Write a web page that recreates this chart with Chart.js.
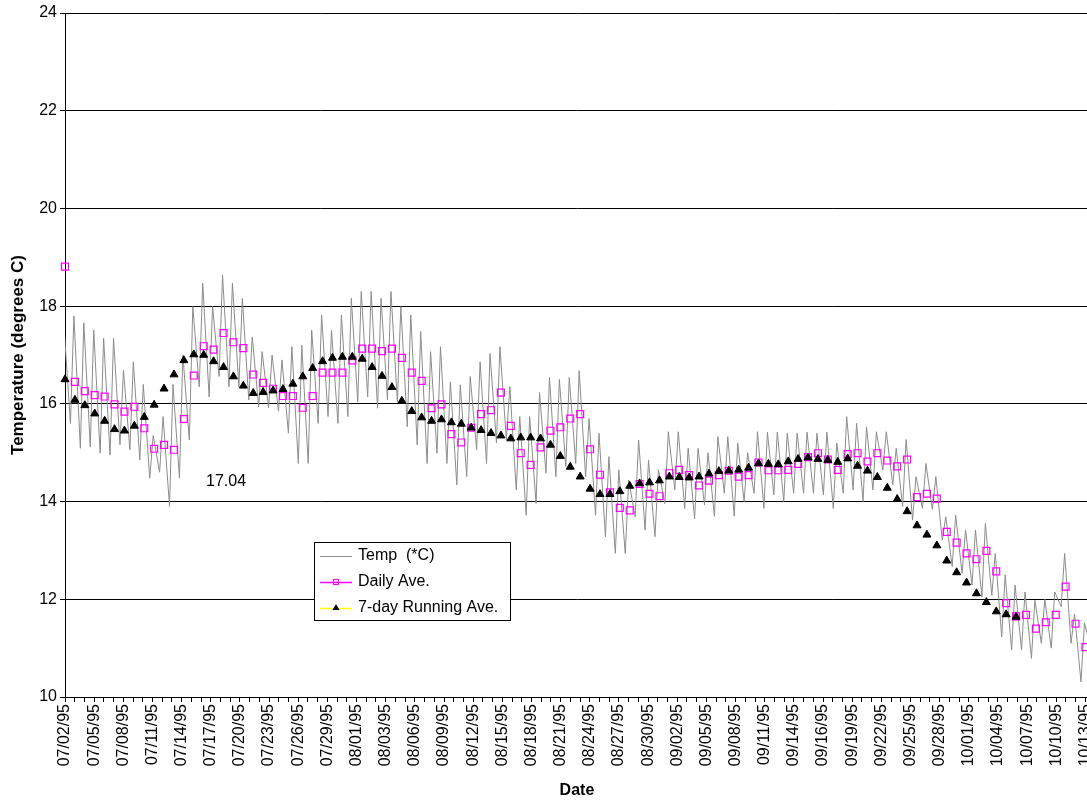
<!DOCTYPE html>
<html>
<head>
<meta charset="utf-8">
<script src="https://cdn.jsdelivr.net/npm/chart.js@4.4.1/dist/chart.umd.min.js"></script>
<style>
  html, body { margin: 0; padding: 0; background: #fff; overflow: hidden; }
  #wrap { width: 1095px; height: 801px; }
</style>
</head>
<body>
<div id="wrap"><canvas id="tempChart" width="1095" height="801"></canvas></div>
<script>
// Etiquetas del eje X (una cada 3 divisiones)
const tickLabels = [
  '07/02/95', '07/05/95', '07/08/95', '07/11/95', '07/14/95', '07/17/95', '07/20/95', '07/23/95',
  '07/26/95', '07/29/95', '08/01/95', '08/03/95', '08/06/95', '08/09/95', '08/12/95', '08/15/95',
  '08/18/95', '08/21/95', '08/24/95', '08/27/95', '08/30/95', '09/02/95', '09/05/95', '09/08/95',
  '09/11/95', '09/14/95', '09/16/95', '09/19/95', '09/22/95', '09/25/95', '09/28/95', '10/01/95',
  '10/04/95', '10/07/95', '10/10/95', '10/13/95'
];

// Media diaria (un valor por dia, desde 07/02)
const dailyAve = [
  18.81, 16.45, 16.26, 16.18, 16.15, 15.99, 15.84, 15.94, 15.50, 15.08,
  15.16, 15.06, 15.69, 16.58, 17.18, 17.11, 17.45, 17.26, 17.14, 16.60,
  16.43, 16.31, 16.16, 16.16, 15.92, 16.16, 16.64, 16.64, 16.64, 16.89,
  17.13, 17.13, 17.08, 17.13, 16.94, 16.64, 16.47, 15.91, 15.99, 15.38,
  15.21, 15.51, 15.79, 15.87, 16.23, 15.55, 14.99, 14.75, 15.11, 15.45,
  15.52, 15.70, 15.79, 15.07, 14.55, 14.19, 13.87, 13.82, 14.36, 14.16,
  14.11, 14.58, 14.65, 14.54, 14.33, 14.43, 14.54, 14.63, 14.51, 14.54,
  14.80, 14.64, 14.64, 14.65, 14.77, 14.91, 14.99, 14.86, 14.65, 14.97,
  14.99, 14.82, 14.99, 14.84, 14.72, 14.86, 14.09, 14.16, 14.06, 13.38,
  13.16, 12.94, 12.82, 12.99, 12.57, 11.92, 11.65, 11.68, 11.40, 11.53,
  11.68, 12.26, 11.50, 11.02
];

// Media movil de 7 dias
const runningAve = [
  16.50, 16.08, 15.97, 15.80, 15.65, 15.48, 15.45, 15.55, 15.73, 15.98,
  16.31, 16.60, 16.89, 17.01, 17.00, 16.87, 16.75, 16.56, 16.37, 16.22,
  16.24, 16.27, 16.30, 16.41, 16.56, 16.73, 16.87, 16.94, 16.96, 16.96,
  16.92, 16.75, 16.57, 16.34, 16.06, 15.85, 15.72, 15.65, 15.68, 15.62,
  15.59, 15.51, 15.46, 15.40, 15.35, 15.29, 15.31, 15.31, 15.29, 15.16,
  14.93, 14.71, 14.51, 14.26, 14.15, 14.15, 14.21, 14.32, 14.37, 14.39,
  14.43, 14.51, 14.50, 14.49, 14.51, 14.57, 14.62, 14.63, 14.65, 14.69,
  14.78, 14.77, 14.76, 14.82, 14.87, 14.90, 14.87, 14.85, 14.81, 14.88,
  14.73, 14.63, 14.50, 14.28, 14.05, 13.80, 13.51, 13.32, 13.10, 12.79,
  12.55, 12.34, 12.12, 11.94, 11.75, 11.69, 11.64
];

// Temperatura: maximo y minimo de cada dia
const tempHigh = [
  17.58, 17.80, 17.66, 17.51, 17.34, 17.34, 16.69, 16.86, 16.40, 15.35,
  15.74, 16.40, 17.00, 17.99, 18.47, 17.99, 18.64, 18.47, 18.16, 17.37,
  17.07, 17.00, 16.90, 17.17, 17.20, 17.51, 17.82, 17.51, 17.82, 18.16,
  18.30, 18.30, 18.16, 18.30, 17.99, 17.82, 17.48, 17.07, 17.17, 16.45,
  16.39, 16.56, 16.86, 17.03, 17.17, 16.35, 15.74, 15.74, 16.23, 16.54,
  16.50, 16.54, 16.68, 15.70, 15.40, 14.92, 14.65, 14.44, 15.26, 14.85,
  14.65, 15.43, 15.43, 15.09, 15.09, 15.00, 15.33, 15.33, 15.20, 15.00,
  15.43, 15.42, 15.42, 15.40, 15.40, 15.42, 15.40, 15.42, 15.20, 15.74,
  15.60, 15.53, 15.43, 15.43, 15.09, 15.27, 14.51, 14.78, 14.51, 13.69,
  13.72, 13.42, 13.42, 13.55, 12.94, 12.50, 12.29, 12.15, 11.98, 12.00,
  12.15, 12.94, 11.70, 11.51
];
const tempLow = [
  15.60, 15.09, 15.12, 14.99, 14.95, 15.16, 15.06, 14.85, 14.48, 14.60,
  13.90, 14.48, 15.26, 16.35, 16.14, 16.56, 16.35, 16.35, 16.08, 15.94,
  15.92, 15.85, 15.40, 14.78, 14.78, 15.60, 15.74, 15.60, 15.74, 16.04,
  16.14, 15.91, 16.08, 16.04, 15.53, 15.16, 14.78, 14.99, 14.78, 14.34,
  14.51, 15.06, 14.78, 15.20, 15.26, 14.24, 13.72, 13.96, 14.58, 14.51,
  14.72, 14.78, 14.51, 13.72, 13.28, 12.94, 12.94, 13.69, 13.42, 13.28,
  13.96, 14.24, 13.86, 13.65, 13.93, 13.70, 14.17, 13.70, 14.00, 14.17,
  13.86, 14.14, 14.00, 14.17, 14.17, 14.17, 14.14, 13.86, 14.17, 14.24,
  14.00, 14.24, 14.65, 14.34, 13.90, 13.62, 13.86, 13.84, 13.21, 12.67,
  12.53, 12.29, 12.05, 12.08, 11.23, 10.96, 10.96, 10.79, 11.10, 11.00,
  11.85, 11.10, 10.31, 11.00
];

const FONT = "'Liberation Sans', Arial, sans-serif";
Chart.defaults.font.family = FONT;
Chart.defaults.font.size = 16;
Chart.defaults.color = '#000';

const lastDay = dailyAve.length - 1;
// tres marcas por cada etiqueta
const tickCount = (tickLabels.length - 1) * 3;
const tickValues = [];
for (let j = 0; j <= tickCount; j++) tickValues.push(j * lastDay / tickCount);

const tempPoints = [];
tempHigh.forEach((hi, d) => {
  tempPoints.push({ x: d - 0.1, y: hi });
  tempPoints.push({ x: d + 0.55, y: tempLow[d] });
});

// Leyenda dentro del area y la etiqueta suelta
const legendBox = {
  id: 'legendBox',
  afterDraw(chart) {
    const ctx = chart.ctx;
    const ds = chart.data.datasets;
    ctx.save();
    ctx.font = '16px ' + FONT;
    ctx.fillStyle = '#000';
    ctx.textBaseline = 'middle';
    ctx.fillText('17.04', 206, 482);

    const bx = 314.5, by = 542.5, bw = 196, bh = 78;
    ctx.fillStyle = '#fff';
    ctx.fillRect(bx, by, bw, bh);
    ctx.strokeStyle = '#000';
    ctx.lineWidth = 1;
    ctx.strokeRect(bx, by, bw, bh);

    const rows = [
      { label: ds[2].label, line: ds[2].borderColor, style: null },
      { label: ds[1].label, line: ds[1].borderColor, style: 'rect' },
      { label: ds[0].label, line: '#ffff00', style: 'triangle' }
    ];
    rows.forEach((r, i) => {
      const y = 556 + i * 26;
      ctx.strokeStyle = r.line;
      ctx.lineWidth = i === 0 ? 1 : 1.5;
      ctx.beginPath();
      ctx.moveTo(320, y + 0.5);
      ctx.lineTo(352, y + 0.5);
      ctx.stroke();
      if (r.style === 'rect') {
        ctx.strokeStyle = ds[1].borderColor;
        ctx.lineWidth = 1;
        ctx.strokeRect(333.5, y - 2.5, 5, 5);
      } else if (r.style === 'triangle') {
        ctx.fillStyle = '#000';
        ctx.beginPath();
        ctx.moveTo(336, y - 4);
        ctx.lineTo(339.5, y + 2);
        ctx.lineTo(332.5, y + 2);
        ctx.closePath();
        ctx.fill();
      }
      ctx.fillStyle = '#000';
      ctx.fillText(r.label, 358, y);
    });
    ctx.restore();
  }
};

const ctx = document.getElementById('tempChart').getContext('2d');
new Chart(ctx, {
  type: 'scatter',
  data: {
    datasets: [
      {
        label: '7-day Running Ave.',
        data: runningAve.map((v, d) => ({ x: d, y: v })),
        pointStyle: 'triangle',
        pointRadius: 4.6,
        pointBorderWidth: 1,
        backgroundColor: '#000',
        borderColor: '#000',
        showLine: false,
        clip: false,
        order: 0
      },
      {
        label: 'Daily Ave.',
        data: dailyAve.map((v, d) => ({ x: d, y: v })),
        pointStyle: 'rect',
        pointRadius: 4.9,
        pointBorderWidth: 1.2,
        backgroundColor: 'rgba(0,0,0,0)',
        borderColor: '#ff00ff',
        showLine: false,
        clip: false,
        order: 1
      },
      {
        label: 'Temp  (*C)',
        data: tempPoints,
        showLine: true,
        borderColor: '#8c8c8c',
        borderWidth: 1,
        pointRadius: 0,
        tension: 0,
        order: 2
      }
    ]
  },
  options: {
    responsive: false,
    animation: false,
    layout: { padding: { top: 13, right: 0, left: 0, bottom: 0 } },
    plugins: { legend: { display: false }, tooltip: { enabled: false } },
    scales: {
      x: {
        type: 'linear',
        min: 0,
        max: 103.35,
        afterBuildTicks: axis => { axis.ticks = tickValues.map(v => ({ value: v })); },
        afterFit: s => { s.height = 104; s.paddingLeft = 0; s.paddingRight = 0; },
        ticks: {
          autoSkip: false,
          minRotation: 90,
          maxRotation: 90,
          padding: 2,
          color: '#000',
          callback: (v, i) => (i % 3 === 0 ? tickLabels[i / 3] : '')
        },
        grid: { drawOnChartArea: false, drawTicks: true, tickLength: 5, color: '#000' },
        border: { color: '#000', width: 1 },
        title: {
          display: true,
          text: 'Date',
          font: { weight: 'bold', size: 16 },
          color: '#000',
          padding: { top: 0, bottom: 1 }
        }
      },
      y: {
        min: 10,
        max: 24,
        afterFit: s => { s.width = 65; },
        ticks: { stepSize: 2, padding: 3, color: '#000' },
        grid: { color: '#000', lineWidth: 1, tickLength: 5 },
        border: { color: '#000', width: 1 },
        title: {
          display: true,
          text: 'Temperature (degrees C)',
          font: { weight: 'bold', size: 17 },
          color: '#000',
          padding: { top: 8, bottom: 0 }
        }
      }
    }
  },
  plugins: [legendBox]
});
</script>
</body>
</html>
